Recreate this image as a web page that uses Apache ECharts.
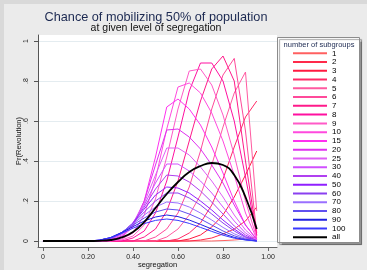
<!DOCTYPE html>
<html>
<head>
<meta charset="utf-8">
<script src="https://cdn.jsdelivr.net/npm/echarts@6/dist/echarts.min.js"></script>
<style>
  html, body { margin: 0; padding: 0; background: #ebebeb; }
  #main { width: 367px; height: 270px; }
</style>
</head>
<body>
<div id="main"></div>
<script type="text/javascript">
var font = 'Liberation Sans, Arial, sans-serif';

// segregation levels (x)
var seg = [0, 0.05, 0.10, 0.15, 0.20, 0.25, 0.30, 0.35, 0.40, 0.45,
           0.50, 0.55, 0.60, 0.65, 0.70, 0.75, 0.80, 0.85, 0.90, 0.95];

var groups = ['1', '2', '3', '4', '5', '6', '7', '8', '9', '10', '15', '20',
              '25', '30', '40', '50', '60', '70', '80', '90', '100', 'all'];

// Pr(Revolution) per number of subgroups
var p1   = [0,0,0,0,0,0,0,0,0,0,0,0,0,0,0,0,.002,.005,.01,.02];
var p2   = [0,0,0,0,0,0,0,0,0,0,0,0,0,0,.005,.015,.035,.06,.10,.17];
var p3   = [0,0,0,0,0,0,0,0,0,0,0,0,0,.01,.03,.07,.13,.22,.33,.45];
var p4   = [0,0,0,0,0,0,0,0,0,0,0,0,.01,.04,.09,.18,.31,.47,.62,.70];
var p5   = [0,0,0,0,0,0,0,0,0,0,0,.02,.06,.13,.23,.38,.57,.74,.845,.15];
var p6   = [0,0,0,0,0,0,0,0,0,0,.02,.06,.14,.27,.45,.66,.83,.913,.55,.04];
var p7   = [0,0,0,0,0,0,0,0,0,.02,.06,.15,.30,.50,.70,.86,.925,.80,.40,.03];
var p8   = [0,0,0,0,0,0,0,0,.015,.05,.14,.30,.52,.75,.89,.89,.80,.60,.32,.025];
var p9   = [0,0,0,0,0,0,0,.005,.025,.08,.21,.42,.66,.85,.86,.78,.63,.43,.20,.015];
var p10  = [0,0,0,0,0,0,0,.01,.04,.13,.31,.56,.77,.79,.74,.64,.50,.33,.14,.01];
var p15  = [0,0,0,0,0,0,.005,.02,.07,.20,.42,.67,.71,.66,.58,.47,.34,.20,.08,.006];
var p20  = [0,0,0,0,0,0,.006,.025,.08,.20,.38,.555,.56,.52,.46,.38,.29,.18,.08,.008];
var p25  = [0,0,0,0,0,.002,.01,.03,.09,.19,.33,.465,.465,.43,.37,.30,.22,.13,.055,.005];
var p30  = [0,0,0,0,0,.002,.01,.035,.09,.18,.29,.385,.385,.35,.30,.24,.17,.10,.04,.003];
var p40  = [0,0,0,0,0,.002,.012,.038,.09,.17,.26,.33,.325,.295,.25,.195,.135,.075,.03,.002];
var p50  = [0,0,0,0,0,.003,.014,.04,.09,.16,.23,.27,.265,.24,.20,.155,.105,.06,.022,.001];
var p60  = [0,0,0,0,0,.003,.015,.042,.088,.145,.20,.24,.24,.215,.18,.135,.09,.05,.018,.001];
var p70  = [0,0,0,0,0,.004,.016,.043,.085,.13,.17,.195,.19,.17,.14,.105,.068,.036,.013,0];
var p80  = [0,0,0,0,0,.004,.017,.043,.08,.115,.145,.16,.155,.135,.11,.08,.05,.026,.009,0];
var p90  = [0,0,0,0,0,.004,.017,.042,.072,.10,.12,.13,.122,.105,.083,.06,.037,.018,.006,0];
var p100 = [0,0,0,0,0,.004,.016,.038,.064,.087,.103,.11,.103,.088,.068,.048,.029,.014,.005,0];
var pAll = [0,0,0,0,0,.001,.005,.018,.045,.095,.165,.235,.295,.345,.375,.39,.38,.33,.22,.06];

var values = [p1, p2, p3, p4, p5, p6, p7, p8, p9, p10, p15, p20,
              p25, p30, p40, p50, p60, p70, p80, p90, p100, pAll];

var colors = ['#ff6060', '#ff2a4a', '#ff1a40', '#ff2a66', '#ff5aa0', '#ff4a9a',
              '#ff1a8a', '#ff10a0', '#ff5ac8', '#ff4ade', '#ff30f0', '#e030f0',
              '#e060f5', '#d050ff', '#b040f0', '#9020ff', '#8a40f0', '#9a70ff',
              '#6050f0', '#2020e0', '#3a3aff', '#000000'];

var myChart = echarts.init(document.getElementById('main'));

var series = groups.map(function (g, i) {
    return {
        name: g,
        type: 'line',
        symbol: 'none',
        smooth: g === 'all' ? 0.5 : false,
        lineStyle: { width: g === 'all' ? 1.8 : 1, color: colors[i] },
        itemStyle: { color: colors[i] },
        data: seg.map(function (s, j) { return [s, values[i][j]]; })
    };
});

myChart.setOption({
    animation: false,
    backgroundColor: '#ebebeb',
    textStyle: { fontFamily: font },
    graphic: [
        { type: 'rect', z: -10, silent: true, shape: { x: 0, y: 0, width: 367, height: 270 }, style: { fill: '#d9d9d9' } },
        { type: 'rect', z: -9, silent: true, shape: { x: 4, y: 4, width: 363, height: 266 }, style: { fill: '#ebebeb' } },
        { type: 'rect', z: 3, silent: true, shape: { x: 277.5, y: 37.5, width: 82, height: 205 },
          style: { fill: '#fff', stroke: '#8c8c8c', lineWidth: 1,
                   shadowColor: 'rgba(0,0,0,0.35)', shadowOffsetX: 2, shadowOffsetY: 2, shadowBlur: 1 } }
    ],
    title: [
        { text: 'Chance of mobilizing 50% of population', left: 156, top: 10.5, textAlign: 'center', padding: 0,
          textStyle: { fontSize: 12.7, fontWeight: 'normal', color: '#1c2951', fontFamily: font } },
        { text: 'at given level of segregation', left: 156, top: 23, textAlign: 'center', padding: 0,
          textStyle: { fontSize: 10.5, fontWeight: 'normal', color: '#111', fontFamily: font } },
        { text: 'number of subgroups', left: 319, top: 40.5, textAlign: 'center', padding: 0, z: 6,
          textStyle: { fontSize: 7.5, fontWeight: 'normal', color: '#1c2951', fontFamily: font } }
    ],
    legend: {
        data: groups,
        orient: 'vertical',
        left: 293,
        top: 49.3,
        padding: 0,
        icon: 'rect',
        itemWidth: 34,
        itemHeight: 2,
        itemGap: 0.76,
        selectedMode: false,
        z: 5,
        textStyle: { fontSize: 8, lineHeight: 8, color: '#000', fontFamily: font }
    },
    grid: {
        left: 38, top: 35, width: 239, height: 212,
        outerBoundsMode: 'none',
        containLabel: false,
        show: true, backgroundColor: '#fff', borderWidth: 0
    },
    xAxis: {
        type: 'value',
        min: -0.0222,
        max: 1.04,
        name: 'segregation',
        nameLocation: 'middle',
        nameGap: 14,
        nameMoveOverlap: false,
        nameTextStyle: { fontSize: 7.5, color: '#111', fontFamily: font },
        axisLine: { show: true, onZero: false, lineStyle: { color: '#666', width: 1 } },
        axisTick: { show: true, length: 4, lineStyle: { color: '#666' } },
        axisLabel: {
            fontSize: 7, color: '#222', margin: 7, showMinLabel: false, showMaxLabel: false,
            formatter: function (v) { return v === 0 ? '0' : v.toFixed(2); }
        },
        splitLine: { show: false }
    },
    yAxis: {
        type: 'value',
        min: -0.03,
        max: 1.03,
        name: 'Pr(Revolution)',
        nameLocation: 'middle',
        nameGap: 15,
        nameMoveOverlap: false,
        nameTextStyle: { fontSize: 7.5, color: '#111', fontFamily: font },
        axisLine: { show: true, onZero: false, lineStyle: { color: '#555', width: 1 } },
        axisTick: { show: true, length: 4, lineStyle: { color: '#555' } },
        axisLabel: {
            fontSize: 7, color: '#222', margin: 8, rotate: 90, showMinLabel: false, showMaxLabel: false,
            formatter: function (v) {
                if (v === 0) return '0';
                if (v === 1) return '1';
                return v.toFixed(1).replace(/^0/, '');
            }
        },
        splitLine: { show: true, showMinLine: false, showMaxLine: false, lineStyle: { color: '#e4ecf0', width: 1 } }
    },
    series: series
});
</script>
</body>
</html>
